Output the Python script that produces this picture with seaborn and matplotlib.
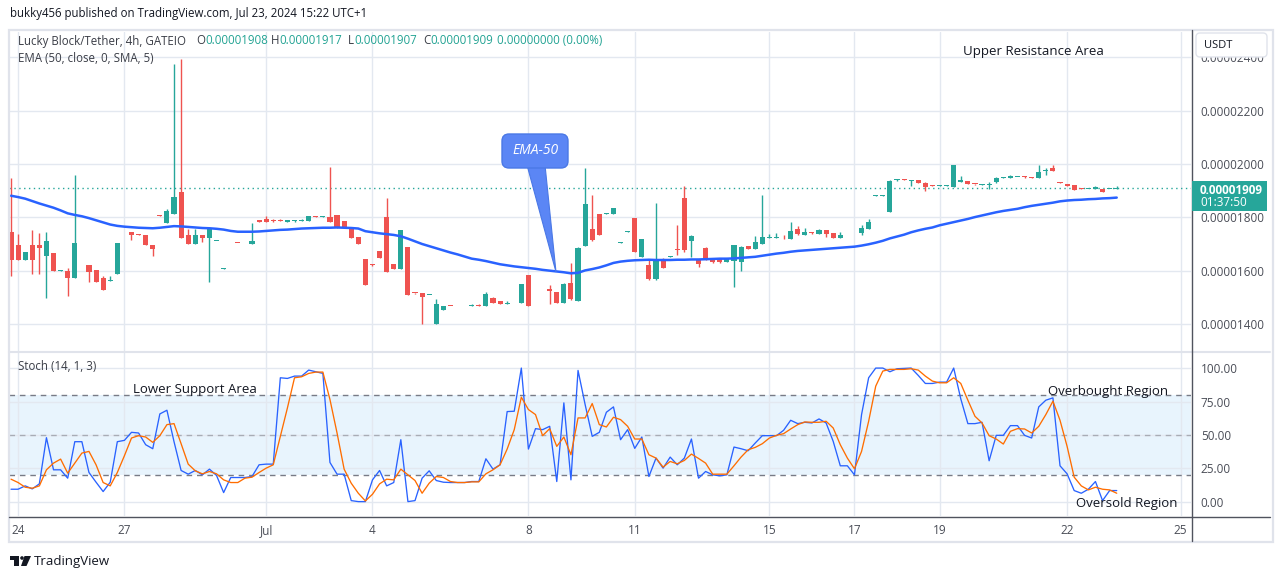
import numpy as np
import pandas as pd
import matplotlib
matplotlib.use("Agg")
import matplotlib.pyplot as plt
import seaborn as sns
from matplotlib.patches import FancyBboxPatch, Polygon, Rectangle, Circle

sns.set_theme(style="white")
plt.rcParams['font.family'] = ['Open Sans', 'DejaVu Sans']

# ---------------- data (prices in units of 1e-8 USDT) ----------------
opens = [1745,1696,1640,1696,1696,1656,1666,1600,1600,1574,
         1702,1621,1602,1574,1562,1586,1706,1744,1736,1734,
         1696,1807,1780,1814,1895,1734,1701,1734,1724,1710,
         1608,1702,1704,1702,1701,1790,1794,1790,1790,1782,
         1786,1788,1785,1803,1802,1802,1809,1786,1762,1725,
         1644,1622,1674,1801,1626,1607,1689,1516,1515,1508,
         1400,1452,1468,1466,1466,1467,1470,1467,1497,1485,
         1476,1477,1478,1584,1526,1526,1530,1520,1480,1552,
         1487,1694,1756,1812,1814,1814,1705,1746,1796,1652,
         1621,1569,1644,1653,1681,1873,1711,1644,1685,1644,
         1644,1632,1637,1632,1692,1682,1701,1724,1724,1722,
         1720,1756,1732,1742,1737,1752,1741,1724,1736,1736,
         1740,1756,1880,1880,1821,1939,1942,1938,1940,1930,
         1918,1919,1919,1915,1932,1936,1925,1923,1923,1934,
         1948,1946,1951,1953,1950,1946,1973,1986,1931,1925,
         1920,1907,1906,1905,1905,1906,1908]
highs = [1947,1737,1671,1752,1741,1746,1666,1603,1609,1959,
         1704,1621,1602,1581,1581,1704,1708,1744,1738,1734,
         1698,1807,1831,2375,2394,1756,1756,1734,1756,1712,
         1610,1704,1704,1704,1780,1790,1806,1794,1794,1790,
         1790,1792,1806,1804,1804,1988,1809,1786,1762,1728,
         1644,1625,1674,1873,1626,1751,1689,1516,1515,1510,
         1494,1467,1468,1468,1468,1474,1476,1521,1501,1485,
         1485,1479,1549,1584,1528,1528,1546,1520,1554,1630,
         1688,1986,1884,1812,1816,1835,1707,1748,1796,1719,
         1640,1854,1646,1655,1771,1918,1732,1644,1689,1646,
         1646,1644,1696,1692,1694,1730,1884,1737,1741,1733,
         1782,1767,1760,1746,1755,1752,1741,1744,1738,1738,
         1771,1792,1882,1882,1940,1942,1944,1941,1940,1932,
         1922,1922,1922,1996,1955,1937,1925,1925,1934,1951,
         1951,1957,1953,1954,1951,1996,1986,1996,1931,1925,
         1920,1909,1907,1919,1905,1908,1917]
lows = [1581,1640,1640,1587,1587,1499,1600,1600,1506,1574,
        1702,1559,1559,1529,1562,1586,1706,1716,1733,1696,
        1656,1805,1780,1814,1724,1701,1701,1709,1556,1710,
        1608,1702,1702,1702,1701,1784,1784,1784,1786,1782,
        1782,1786,1785,1801,1801,1784,1759,1762,1724,1701,
        1547,1619,1649,1596,1607,1607,1509,1514,1400,1508,
        1400,1452,1466,1466,1466,1467,1468,1467,1480,1475,
        1476,1477,1478,1469,1526,1526,1475,1480,1480,1490,
        1487,1694,1711,1734,1814,1814,1705,1746,1671,1652,
        1566,1566,1611,1653,1660,1671,1652,1615,1641,1630,
        1630,1632,1540,1600,1682,1682,1701,1723,1723,1720,
        1720,1732,1732,1738,1737,1727,1724,1724,1736,1736,
        1734,1756,1880,1880,1821,1938,1940,1919,1930,1900,
        1916,1918,1918,1915,1932,1924,1923,1923,1905,1928,
        1947,1946,1951,1948,1948,1946,1959,1974,1929,1919,
        1902,1905,1906,1905,1896,1906,1907]
closes = [1640,1640,1671,1640,1686,1711,1600,1602,1574,1704,
          1703,1596,1559,1529,1565,1704,1707,1734,1733,1696,
          1682,1806,1824,1876,1724,1701,1734,1724,1756,1711,
          1609,1703,1703,1703,1711,1784,1784,1788,1788,1790,
          1788,1790,1806,1802,1803,1784,1759,1762,1724,1701,
          1547,1620,1649,1596,1607,1751,1509,1515,1502,1509,
          1475,1467,1467,1467,1467,1472,1469,1511,1480,1475,
          1479,1478,1549,1469,1527,1527,1525,1480,1550,1494,
          1685,1850,1715,1734,1815,1835,1706,1747,1671,1719,
          1569,1644,1611,1654,1679,1678,1730,1626,1641,1632,
          1632,1644,1696,1689,1682,1707,1726,1725,1725,1721,
          1749,1737,1744,1741,1752,1737,1724,1732,1737,1737,
          1759,1784,1881,1881,1936,1940,1941,1940,1930,1915,
          1917,1920,1920,1996,1940,1924,1924,1924,1925,1949,
          1949,1956,1952,1951,1948,1971,1974,1974,1929,1919,
          1902,1906,1907,1914,1896,1907,1909]
ema50 = [1881,1876,1870,1861,1852,1844,1836,1826,1815,1809,
         1804,1797,1789,1781,1773,1768,1765,1763,1761,1760,
         1759,1761,1764,1767,1766,1764,1762,1760,1759,1757,
         1754,1749,1746,1746,1746,1747,1749,1751,1753,1754,
         1756,1758,1759,1760,1761,1761,1762,1761,1760,1758,
         1748,1744,1740,1737,1734,1729,1720,1710,1700,1692,
         1684,1676,1668,1661,1653,1645,1641,1636,1630,1624,
         1620,1616,1613,1610,1607,1603,1600,1597,1594,1590,
         1592,1601,1606,1612,1620,1629,1634,1637,1639,1640,
         1641,1640,1640,1640,1641,1641,1642,1642,1643,1644,
         1645,1645,1646,1648,1650,1652,1656,1660,1664,1667,
         1671,1674,1676,1678,1680,1682,1684,1686,1688,1690,
         1694,1699,1705,1712,1721,1728,1735,1744,1751,1757,
         1762,1770,1776,1782,1788,1794,1801,1807,1813,1819,
         1824,1828,1832,1838,1843,1847,1851,1855,1860,1863,
         1865,1866,1868,1869,1871,1872,1874]
stoch_k = [9.5,9.5,12,9.75,13.5,48,24,24,17.75,45,
           45,22,14.75,7.75,14.75,45,46,52,51.5,42.75,
           39.75,65.75,68.5,45,23.5,20.75,23.5,20.25,24.5,19.75,
           7,18.25,18.25,18.25,19,27.75,28.25,28.25,92.75,92.25,
           94,94,98.5,97.25,96,29.5,20.75,20.75,1,0.25,
           0.25,16.5,23.5,12,14.5,46.5,0.25,1,17.75,23.25,
           16,14.75,14.5,14.5,14.5,15.25,15.25,32.25,24.5,27.75,
           67.5,67.75,100,39.5,54.75,54,56.5,15.25,74,16.5,
           98.25,72.75,49,52,67,71,46.5,54,40,48.5,
           19,32.75,25.25,33.5,27.75,32.75,47,17.75,22.75,20.25,
           19.5,20.25,41,39.75,38.25,44,49.5,49.5,49.5,53.5,
           61,58.5,59.5,59,62,59,45.25,27,27,20.25,
           65.25,92.75,100,100,97.25,99.5,99.75,100,94.5,88.5,
           88.5,89.5,89.5,100,77,58.5,58.5,59.5,30.75,49.75,
           49.75,57,57,49.75,47.75,71,76,77.75,27,21,
           8.5,6.5,9.5,15.25,1,8.5,8.5]
stoch_d = [17,14.5,11,10.25,12,24,29,32,21.5,29,
           36.5,37.75,27.75,14.5,12,22,34.5,47.75,49.5,48.5,
           44.5,49.5,57.75,58.5,43.5,28.25,23.25,21,22.75,21,
           16.5,14.5,14.5,17.75,18.5,22,25.25,27.75,49,70.25,
           92.75,93.5,96,97,97,76.5,51.5,24.5,14,6.5,
           0.75,5.75,13.5,17,16.5,24.5,20.25,16,6.5,14,
           19,18.25,15.25,14.5,14.5,15,15,21,24,27.75,
           39.5,54,78.25,69,65.25,49.5,54.75,41.5,48.5,35.25,
           62.75,62.75,73.5,57.75,56,63.25,61.5,56.5,47,47,
           35.25,32.75,26,30.25,28.5,31,35.75,32.5,29,20.75,
           20.75,20.75,27,33.5,39,40.75,43.5,47.75,49.75,51,
           54.5,57.75,59.75,59.5,59.5,60.25,55.25,42.75,32.75,24.75,
           37.75,60.25,86.5,97.75,99,99,99,99.5,98.5,94,
           90.25,89,89,92.75,88.5,76,64,59,49.5,47,
           43.25,52.75,54.75,54.5,51.5,56.5,65.25,75.25,61,41.5,
           18.5,12,9,11,9.5,9,6.5]
last_price = 1909
date_ticks = [1, 16, 36, 51, 73, 88, 107, 119, 131, 149, 165]
date_labels = ["24", "27", "Jul", "4", "8", "11", "15", "17", "19", "22", "25"]
price_ticks = [1400, 1600, 1800, 2000, 2200, 2400]
stoch_ticks = [0, 25, 50, 75, 100]
ohlc_letters = ["O", "H", "L", "C"]
ohlc_values = ["0.00001908", "0.00001917", "0.00001907", "0.00001909"]

# ---------------- styling ----------------
W, H = 1281, 579
GREEN, RED = "#26a69a", "#ef5350"
BLUE, ORANGE = "#2962ff", "#ff6d00"
GRID = "#e3e8f0"
TXT = "#131722"
AXT = "#4a4d57"
LEG = "#3a3d46"
TEAL = "#22a393"

df = pd.DataFrame({"i": np.arange(len(opens)), "open": opens, "high": highs,
                   "low": lows, "close": closes, "ema": ema50,
                   "k": stoch_k, "d": stoch_d})
df["up"] = df["close"] >= df["open"]
df["color"] = np.where(df["up"], GREEN, RED)
df["bot"] = df[["open", "close"]].min(axis=1)
df["h"] = (df["close"] - df["open"]).abs().clip(lower=3.2)


def px_rect(x0, y0, x1, y1):
    return [x0 / W, 1 - y1 / H, (x1 - x0) / W, (y1 - y0) / H]


fig = plt.figure(figsize=(W / 100, H / 100), dpi=100)
fig.patch.set_facecolor("white")

ax_p = fig.add_axes(px_rect(9.3, 32, 1191, 351))
ax_s = fig.add_axes(px_rect(9.3, 352, 1191, 516))

for ax in (ax_p, ax_s):
    ax.set_facecolor("white")
    ax.set_xlim(-0.24, 166.48)
    ax.set_xticks(date_ticks)
    ax.grid(True, color=GRID, linewidth=1)
    ax.set_axisbelow(True)
    for sp in ax.spines.values():
        sp.set_visible(False)
    ax.tick_params(length=0, colors=AXT, labelsize=8.5)
    ax.yaxis.tick_right()

# price panel
ax_p.set_ylim(1298.75, 2495)
ax_p.set_yticks(price_ticks)
ax_p.set_yticklabels([f"{v * 1e-8:.8f}" for v in price_ticks])
ax_p.tick_params(axis="y", pad=7)
ax_p.tick_params(axis="x", labelbottom=False)

ax_p.vlines(df["i"], df["low"], df["high"], colors=df["color"], linewidth=1, zorder=2)
ax_p.bar(df["i"], df["h"], bottom=df["bot"], width=0.72, color=df["color"],
         linewidth=0, zorder=2)
sns.lineplot(data=df, x="i", y="ema", ax=ax_p, color=BLUE, linewidth=1.8,
             legend=False, zorder=3)
ax_p.axhline(last_price, color=GREEN, linestyle=(0, (1, 2.5)), linewidth=1, zorder=1.5)
ax_p.set_xlabel("")
ax_p.set_ylabel("")

# stochastic panel
ax_s.set_ylim(-10.5, 112)
ax_s.set_yticks(stoch_ticks)
ax_s.set_yticklabels([f"{v:.2f}" for v in stoch_ticks])
ax_s.tick_params(axis="y", pad=7)
ax_s.set_xticklabels(date_labels)
ax_s.tick_params(axis="x", pad=6)
ax_s.axhspan(20, 80, color="#2196f3", alpha=0.1, linewidth=0, zorder=0.5)
for lvl, a in ((80, 1.0), (50, 0.55), (20, 1.0)):
    ax_s.axhline(lvl, color="#787b86", linestyle=(0, (4, 3.5)), linewidth=1,
                 alpha=a, zorder=1)
sns.lineplot(data=df, x="i", y="k", ax=ax_s, color=BLUE, linewidth=0.95,
             legend=False, zorder=3)
sns.lineplot(data=df, x="i", y="d", ax=ax_s, color=ORANGE, linewidth=0.95,
             legend=False, zorder=3)
ax_s.set_xlabel("")
ax_s.set_ylabel("")

# ---------------- overlay (pixel coordinates) ----------------
ov = fig.add_axes([0, 0, 1, 1])
ov.set_xlim(0, W)
ov.set_ylim(H, 0)
ov.axis("off")
ov.patch.set_alpha(0)
renderer = fig.canvas.get_renderer()

# frame
ov.add_patch(Rectangle((8.5, 29.5), 1264, 512, fill=False, ec="#e0e3eb", lw=1.6))
ov.plot([9, 1270], [351.5, 351.5], color="#e0e3eb", lw=1.5)
ov.plot([1191.5, 1191.5], [30, 541], color="#50535e", lw=1)
ov.plot([9, 1270], [516.5, 516.5], color="#50535e", lw=1)

# header
ov.text(10, 14, "bukky456 published on TradingView.com, Jul 23, 2024 15:22 UTC+1",
        fontsize=8.3, color=TXT, va="center", ha="left")

# legend line
LFS = 8.3
ov.text(18, 41, "Lucky Block/Tether, 4h, GATEIO", fontsize=LFS, color=LEG, va="center")
for xl, lab, val in zip([196, 271, 348, 423], ohlc_letters, ohlc_values):
    t = ov.text(xl, 41, lab, fontsize=LFS, color=LEG, va="center")
    wpx = t.get_window_extent(renderer).width
    ov.text(xl + wpx, 41, val, fontsize=LFS, color=TEAL, va="center")
ov.text(497, 41, "0.00000000 (0.00%)", fontsize=LFS, color=TEAL, va="center")
ov.text(18, 59, "EMA (50, close, 0, SMA, 5)", fontsize=LFS, color=LEG, va="center")
ov.text(18, 367, "Stoch (14, 1, 3)", fontsize=LFS, color=LEG, va="center")

# annotations
ann = dict(fontsize=9.5, color=TXT, va="center", ha="left")
ov.text(963, 52, "Upper Resistance Area", **ann)
ov.text(133, 389, "Lower Support Area", **ann)
ov.text(1048, 391, "Overbought Region", **ann)
ov.text(1076, 504, "Oversold Region", **ann)

# EMA-50 callout
ov.add_patch(Polygon([(527, 165), (545, 165), (556, 272)], closed=True,
                     fc="#5b86f5", ec="#4a78e6", lw=0.8, zorder=5))
ov.add_patch(FancyBboxPatch((502, 134), 66, 34,
                            boxstyle="round,pad=0,rounding_size=7",
                            fc="#5b86f5", ec="#4a78e6", lw=1, zorder=6))
ov.text(535, 151, "EMA-50", fontsize=10, color="white", style="italic",
        ha="center", va="center", zorder=7)

# USDT box
ov.add_patch(FancyBboxPatch((1196, 33), 71, 24, boxstyle="round,pad=0,rounding_size=4",
                            fc="white", ec="#e0e3eb", lw=1, zorder=5))
ov.text(1204, 45, "USDT", fontsize=8, color=TXT, va="center", zorder=6)

# last price tag
ov.add_patch(Rectangle((1192, 181), 75, 30, fc=GREEN, ec="none", zorder=5))
ov.text(1200, 190, "0.00001909", fontsize=8.5, color="white", weight="bold",
        va="center", zorder=6)
ov.text(1200, 203, "01:37:50", fontsize=8.5, color="white", va="center", zorder=6)

# TradingView logo
ov.add_patch(Rectangle((10, 556), 9, 3.5, fc=TXT, ec="none"))
ov.add_patch(Rectangle((14, 556), 4.5, 10, fc=TXT, ec="none"))
ov.add_patch(Circle((22, 558), 1.8, fc=TXT, ec="none"))
ov.add_patch(Polygon([(24.5, 556), (31, 556), (26.5, 566), (21, 566)], closed=True,
                     fc=TXT, ec="none"))
ov.text(34, 561, "TradingView", fontsize=9.5, color=TXT, va="center")

fig.savefig("out.png", dpi=100, facecolor="white")
